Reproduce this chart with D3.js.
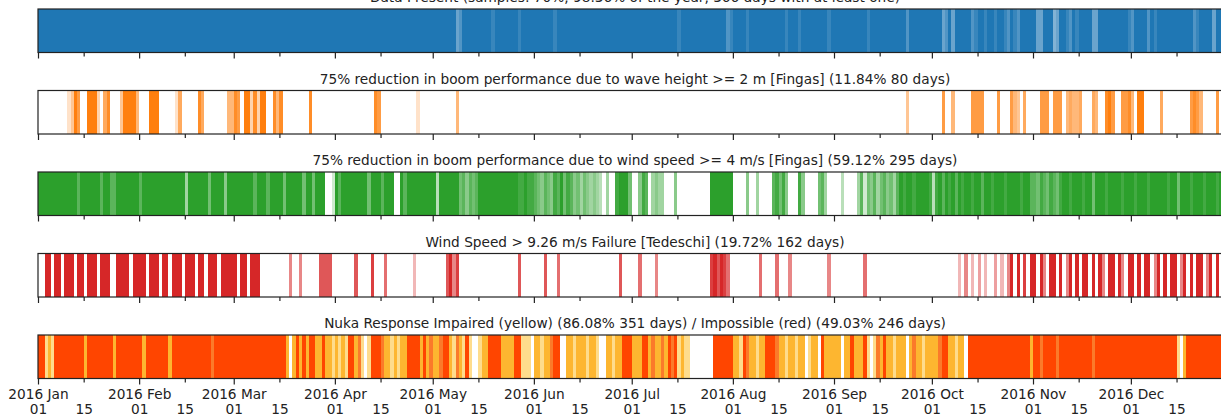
<!DOCTYPE html>
<html>
<head>
<meta charset="utf-8">
<script src="https://cdn.jsdelivr.net/npm/d3@7"></script>
<style>
  body { margin: 0; background: #fff; }
  svg { display: block; font-family: "DejaVu Sans", sans-serif; }
</style>
</head>
<body>
<div id="chart"></div>
<script>
// Each series is one string per month, one character per day of 2016.
// digits: 0 = nothing that day, 9 = the whole day
const presentLevels = [
    "9999999999999999999999999999999",
    "99999999999999999999999999999",
    "9999999999999999999999999999999",
    "999999999999999999999999999999",
    "9999999679999999998999999989999",
    "999999899999999999999999999999",
    "9999999999999989999999999999978",
    "9999899999999999899989999999989",
    "999999999989999999999979999999",
    "9996796999997899899899879879999",
    "966999569987989999669999999998",
    "7999979899999999999789999699999"
];
const waveLevels = [
    "0000000002497009993068000499995",
    "00099900000260000086000000055",
    "8709938399008580000000080000000",
    "000000000000870000000000020000",
    "0000000500000000000000000000000",
    "000000000000000000000000000000",
    "0000000000000000000000000000000",
    "0000000000000000000000000000000",
    "000000000000000000000040000000",
    "0007005000007777000070007540600",
    "007770777056556000650089700778",
    "5099000006000000007875000070000"
];
const windLevels = [
    "9999999999997999999799779999999",
    "79999999999999499999969999599",
    "9999997999799996999996996999002",
    "979999999969997999009799999999",
    "9399999967576799999999999988988",
    "765765879687564654543040089996",
    "0058704544000500000000009999999",
    "0000500400007868500085000067400",
    "003000047265746756479899899998",
    "3897989798998997998999899998997",
    "768768768998999899699989999899",
    "9899989999989969998999899989999"
];
const tedeschiLevels = [
    "0099099099909909990999009999099",
    "99099909909990999099099909999",
    "9099099900000000050050000077770",
    "000000700008000600000000300000",
    "0000795800000000000000000070000",
    "000700060000000000000000007000",
    "0060000500000000000000008979860",
    "0000000060000600050000000000050",
    "000000000600000000000000000000",
    "0000000030503040300403059090809",
    "909509909059090990909509909509",
    "9090990590909905909099059090909"
];
// Nuka response: y = impaired (yellow), l = partly impaired, o = partly impossible,
// r = impossible (red), w = neither
const nukaCodes = [
    "rrlylrrrrrrrrryrrrrrrrryrrrrrrr",
    "ryrrrrrrryrrrrrrrrrrrrorrrrrr",
    "rrrrrrrrrrrrrrrrywyryryrryyryyl",
    "ylylrryolwlrrroyylylyyrrrryryo",
    "yyorryloylrlwwlyyrrrryyyyrrlllw",
    "yylyyorrwwyylyyylyylwwyylyyrrr",
    "yyyrryoyyoyrorlyllwwwwwwwrrrrrr",
    "yylroyylyyrrroyylyylyywlyywryyy",
    "yywyyryyyrlwloyryylyyywyoyylyy",
    "yyorryylyywrrrrrrrrrrrrrrrrrrry",
    "rrorrrrorrrrrrrrrrorrrrrrrrrrr",
    "rrrrrrrrrrrrrrlwyrrrrrrrrrrrrrr"
];
const nukaKeys = ["y", "l", "o", "r"];
const nukaColors = ["#fdb630", "#fedc8c", "#fb7a2a", "#ff4500"];

const panelTitles = [
    "Data Present (samples: 70%, 98.36% of the year, 366 days with at least one)",
    "75% reduction in boom performance due to wave height >= 2 m [Fingas] (11.84% 80 days)",
    "75% reduction in boom performance due to wind speed >= 4 m/s [Fingas] (59.12% 295 days)",
    "Wind Speed > 9.26 m/s Failure [Tedeschi] (19.72% 162 days)",
    "Nuka Response Impaired (yellow) (86.08% 351 days) / Impossible (red) (49.03% 246 days)"
];
const panelColors = ["#1f77b4", "#ff7f0e", "#2ca02c", "#d62728"];

// layout
const width = 1221, height = 415;
const plotLeft = 38, plotRight = 1232;   // axes run a bit past the right edge
const panelTops = [9, 90.5, 172, 253.5, 335];
const panelH = 43.5;
const fontSize = 13.7;

const svg = d3.select("#chart")
    .append("svg")
    .attr("width", width)
    .attr("height", height);

const x = d3.scaleTime()
    .domain([new Date(2016, 0, 1), new Date(2017, 0, 1)])
    .range([plotLeft, plotRight]);

const alpha = d3.scaleLinear().domain([0, 9]).range([0, 1]);
const nukaColor = d3.scaleOrdinal().domain(nukaKeys).range(nukaColors);

function toDays(months) {
    const out = [];
    months.forEach((s, m) => {
        const n = new Date(2016, m + 1, 0).getDate();
        for (let i = 0; i < n; i++) {
            out.push({ date: new Date(2016, m, i + 1), v: s[i] || "0" });
        }
    });
    return out;
}

const majorTicks = d3.timeMonth.range(new Date(2016, 0, 1), new Date(2017, 0, 1));
const minorTicks = majorTicks.map(d => new Date(2016, d.getMonth(), 15));

const levelSeries = [presentLevels, waveLevels, windLevels, tedeschiLevels];

panelTops.forEach((top, i) => {
    const g = svg.append("g").attr("transform", `translate(0,${top})`);

    // bars, one per day
    const bars = g.append("g").attr("shape-rendering", "crispEdges");
    if (i < 4) {
        const days = toDays(levelSeries[i]).filter(d => d.v !== "0");
        bars.selectAll("rect")
            .data(days)
            .join("rect")
            .attr("x", d => x(d.date))
            .attr("width", d => x(d3.timeDay.offset(d.date, 1)) - x(d.date))
            .attr("y", 0)
            .attr("height", panelH)
            .attr("fill", panelColors[i])
            .attr("fill-opacity", d => alpha(+d.v));
    } else {
        const days = toDays(nukaCodes).filter(d => nukaKeys.includes(d.v));
        bars.selectAll("rect")
            .data(days)
            .join("rect")
            .attr("x", d => x(d.date))
            .attr("width", d => x(d3.timeDay.offset(d.date, 1)) - x(d.date))
            .attr("y", 0)
            .attr("height", panelH)
            .attr("fill", d => nukaColor(d.v));
    }

    // frame
    g.append("rect")
        .attr("x", plotLeft)
        .attr("y", 0)
        .attr("width", plotRight - plotLeft)
        .attr("height", panelH)
        .attr("fill", "none")
        .attr("stroke", "#222")
        .attr("stroke-width", 1.2);

    // title
    g.append("text")
        .attr("x", (plotLeft + plotRight) / 2)
        .attr("y", -7)
        .attr("text-anchor", "middle")
        .attr("font-size", fontSize)
        .attr("fill", "#222")
        .text(panelTitles[i]);

    // ticks
    const isLast = i === panelTops.length - 1;
    const major = d3.axisBottom(x)
        .tickValues(majorTicks)
        .tickSize(6)
        .tickFormat(isLast ? d3.timeFormat("%Y %b") : "");
    const minor = d3.axisBottom(x)
        .tickValues(minorTicks)
        .tickSize(4)
        .tickFormat(isLast ? d3.timeFormat("%d") : "");

    const gMajor = g.append("g")
        .attr("transform", `translate(0,${panelH})`)
        .call(major);
    const gMinor = g.append("g")
        .attr("transform", `translate(0,${panelH})`)
        .call(minor);

    [gMajor, gMinor].forEach(a => {
        a.select(".domain").remove();
        a.selectAll("line").attr("stroke", "#222").attr("stroke-width", 1.2);
        a.selectAll("text")
            .attr("font-family", "DejaVu Sans, sans-serif")
            .attr("font-size", fontSize)
            .attr("fill", "#222");
    });

    if (isLast) {
        const dayFmt = d3.timeFormat("%d");
        gMajor.selectAll(".tick text").each(function (d) {
            const t = d3.select(this);
            const top = t.text();
            t.text(null).attr("y", 0).attr("dy", null);
            t.append("tspan").attr("x", 0).attr("y", 20.5).text(top);
            t.append("tspan").attr("x", 0).attr("y", 35).text(dayFmt(d));
        });
        gMinor.selectAll(".tick text")
            .attr("y", 35)
            .attr("dy", null);
    }
});
</script>
</body>
</html>
